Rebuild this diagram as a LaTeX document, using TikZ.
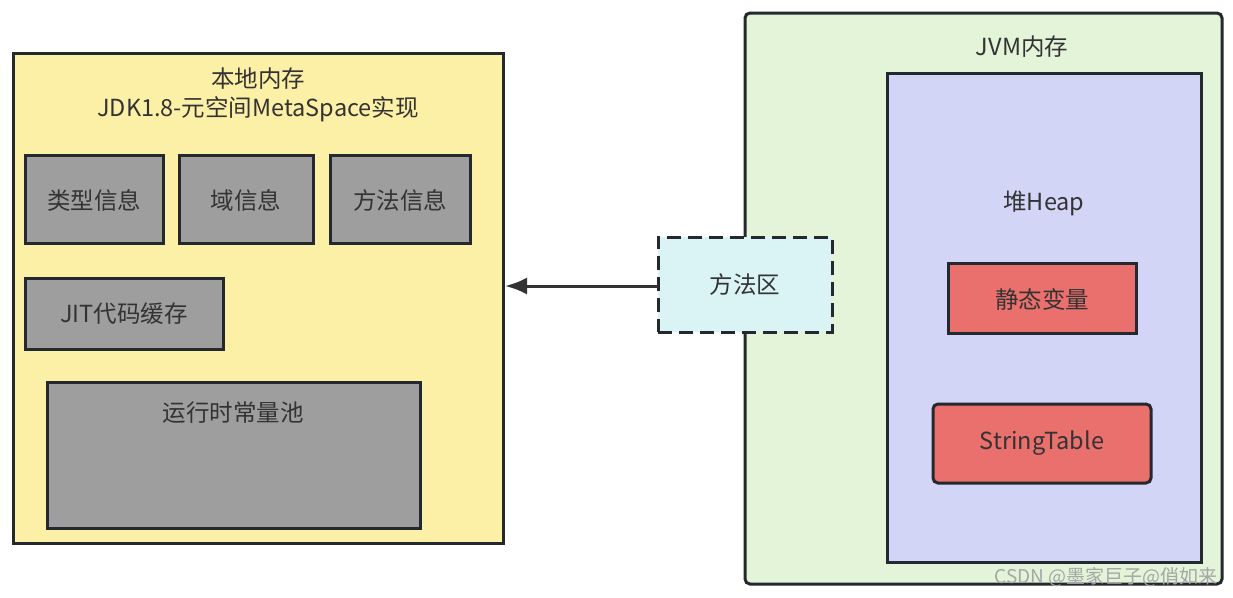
\documentclass[tikz,border=0pt]{standalone}
\usepackage{fontspec}
\usetikzlibrary{arrows.meta}
\setmainfont{Noto Sans CJK SC}
\definecolor{edge}{HTML}{23292E}
\definecolor{txt}{HTML}{333333}
\definecolor{yel}{HTML}{FCEFA6}
\definecolor{grayf}{HTML}{9E9E9E}
\definecolor{cyanf}{HTML}{DAF3F5}
\definecolor{greenf}{HTML}{E3F4D9}
\definecolor{lavf}{HTML}{D3D5F6}
\definecolor{redf}{HTML}{EA706D}
\begin{document}
\begin{tikzpicture}[x=1pt,y=-1pt,
  box/.style={draw=edge,line width=3pt,inner sep=0pt,outer sep=0pt},
  lbl/.style={text=txt,font=\fontsize{23.5}{26}\selectfont,inner sep=0pt,align=center},
  grey/.style={box,fill=grayf}]
\useasboundingbox[fill=white] (0,0) rectangle (1233,597);
% left region
\draw[box,fill=yel] (13,53) rectangle (503,543);
\coordinate (leftedge) at (505,286);
\node[lbl] (t1) at (258,79) {本地内存};
\node[lbl] (t2) at (258,109) {JDK1.8-元空间MetaSpace实现};
\draw[grey] (25,155) rectangle (163,243);
\node[lbl] (a) at (94,200) {类型信息};
\draw[grey] (179,155) rectangle (313,243);
\node[lbl] (b) at (246,200) {域信息};
\draw[grey] (330,155) rectangle (470,243);
\node[lbl] (c) at (400,200) {方法信息};
\draw[grey] (25,278) rectangle (223,349);
\node[lbl] (d) at (124,314) {JIT代码缓存};
\draw[grey] (47,382) rectangle (420,528);
\node[lbl] (e) at (233,413) {运行时常量池};
% right region
\draw[box,fill=greenf,rounded corners=5pt] (745,13) rectangle (1222,584);
\node[lbl] (jvm) at (1022,47) {JVM内存};
\draw[box,fill=lavf] (887,73) rectangle (1201,562);
\node[lbl] (heap) at (1044,203) {堆Heap};
\draw[box,fill=redf] (948,263) rectangle (1136,333);
\node[lbl] (s1) at (1042,299) {静态变量};
\draw[box,fill=redf,rounded corners=5pt] (933,404) rectangle (1151,483);
\node[lbl] (s2) at (1042,443) {StringTable};
% method area
\node[box,fill=cyanf,dash pattern=on 14pt off 7pt,minimum width=174pt,minimum height=95pt] (m) at (745,284.5) {};
\node[lbl] (mt) at (m.center) {方法区};
\draw[line width=3pt,draw=txt,-{Latex[length=22pt,width=17pt]}] (m.west |- leftedge) -- (leftedge);
\node[text=gray!70,font=\fontsize{19}{20}\selectfont,inner sep=0pt,anchor=east] (wm) at (1218,577) {CSDN @墨家巨子@俏如来};
\end{tikzpicture}
\end{document}
